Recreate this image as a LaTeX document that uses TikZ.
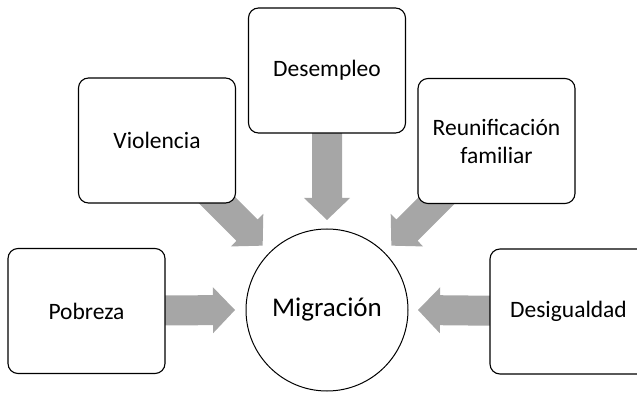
\documentclass[tikz,border=0pt]{standalone}
\usepackage{fontspec}
\setmainfont{Carlito}
\usetikzlibrary{calc,backgrounds}
\definecolor{arrowgray}{RGB}{166,166,166}
\newcommand\blockarrow[2]{%
  \coordinate (h) at ($(#2)!22pt!(#1)$);
  \fill[arrowgray] ($(#1)!15pt!90:(#2)$) -- ($(h)!15pt!90:(#2)$) -- ($(h)!23pt!90:(#2)$) -- (#2)
    -- ($(h)!23pt!-90:(#2)$) -- ($(h)!15pt!-90:(#2)$) -- ($(#1)!15pt!-90:(#2)$) -- cycle;}
\begin{document}
\begin{tikzpicture}[x=1pt,y=-1pt,
  box/.style={draw=black, fill=white, rounded corners=10pt, line width=1.1pt,
    minimum width=157pt, minimum height=125pt, inner sep=0pt, align=center,
    font=\fontsize{23.5}{28}\selectfont},
  hub/.style={circle, draw=black, fill=white, line width=1pt, minimum size=162pt,
    inner sep=0pt, font=\fontsize{27}{32}\selectfont}]
\useasboundingbox (0,0) rectangle (637,395);
\node[hub] (mig) at (327,310) {Migración};
\node[box] (pob) at (86.5,311) {Pobreza};
\node[box] (vio) at (157,140.5) {Violencia};
\node[box] (des) at (327,70.5) {Desempleo};
\node[box] (reu) at (496.5,141) {Reunificación\\familiar};
\node[box] (desi) at (568.5,311.5) {Desigualdad};
\coordinate (tpob) at ($(mig.center)+(180:92pt)$);
\coordinate (tvio) at ($(mig.center)+(135:91pt)$);
\coordinate (tdes) at ($(mig.center)+(90:90pt)$);
\coordinate (treu) at ($(mig.center)+(45:91pt)$);
\coordinate (tdesi) at ($(mig.center)+(0:91pt)$);
\begin{scope}[on background layer]
  \blockarrow{pob.center}{tpob}
  \blockarrow{vio.center}{tvio}
  \blockarrow{des.center}{tdes}
  \blockarrow{reu.center}{treu}
  \blockarrow{desi.center}{tdesi}
\end{scope}
\end{tikzpicture}
\end{document}
